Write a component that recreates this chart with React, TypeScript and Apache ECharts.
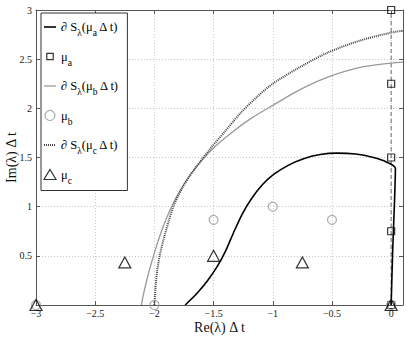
import React, { useEffect, useRef } from 'react';
import * as echarts from 'echarts';

const FONT = "'Liberation Serif', 'Times New Roman', serif";

// Boundary curves ∂S_λ(μ Δt)
const boundaryA: number[][] = [
  [-1.74, 0], [-1.64, 0.12], [-1.55, 0.25], [-1.47, 0.39], [-1.4, 0.545], [-1.33, 0.74],
  [-1.26, 0.92], [-1.18, 1.08], [-1.09, 1.22], [-0.99, 1.33], [-0.87, 1.42], [-0.746, 1.485],
  [-0.6, 1.53], [-0.46, 1.545], [-0.3, 1.535], [-0.15, 1.5], [-0.04, 1.455], [0.036, 1.39],
  [0.027, 1.01], [0.013, 0.56], [0, 0],
];
const boundaryB: number[][] = [
  [-2.11, 0], [-2.09, 0.12], [-2.05, 0.32], [-2.0, 0.53], [-1.94, 0.75], [-1.87, 0.96],
  [-1.79, 1.15], [-1.7, 1.32], [-1.6, 1.47], [-1.48, 1.62], [-1.34, 1.76], [-1.18, 1.9],
  [-1.0, 2.03], [-0.77, 2.19], [-0.53, 2.32], [-0.27, 2.415], [0, 2.46], [0.1, 2.47],
];
const boundaryC: number[][] = [
  [-2.0, 0], [-1.99, 0.18], [-1.975, 0.36], [-1.95, 0.53], [-1.915, 0.7], [-1.88, 0.85],
  [-1.84, 1.0], [-1.76, 1.2], [-1.65, 1.4], [-1.52, 1.6], [-1.4, 1.77], [-1.274, 1.95],
  [-1.13, 2.12], [-1.0, 2.25], [-0.77, 2.42], [-0.53, 2.57], [-0.26, 2.69], [0, 2.77], [0.1, 2.79],
];
// Eigenvalue markers
const muA: number[][] = [[0, 0], [0, 0.75], [0, 1.5], [0, 2.25], [0, 3]];
const muB: number[][] = [[-3, 0], [-2, 0], [-1.5, 0.866], [-1, 1], [-0.5, 0.866], [0, 0]];
const muC: number[][] = [[-3, 0], [-2.25, 0.433], [-1.5, 0.5], [-0.75, 0.433], [0, 0]];
const imagAxisLine: number[][] = [[0, 0], [0, 3]];

const xTickValues = [-3, -2.5, -2, -1.5, -1, -0.5, 0];
const yTickValues = [0.5, 1, 1.5, 2, 2.5, 3];

const names = ['Sa', 'muA', 'Sb', 'muB', 'Sc', 'muC'];
const legendLabels: Record<string, string> = {
  Sa: '{b|∂ S}{s|λ}{b|(μ}{s|a}{b| Δ t)}',
  muA: '{b|μ}{s|a}',
  Sb: '{b|∂ S}{s|λ}{b|(μ}{s|b}{b| Δ t)}',
  muB: '{b|μ}{s|b}',
  Sc: '{b|∂ S}{s|λ}{b|(μ}{s|c}{b| Δ t)}',
  muC: '{b|μ}{s|c}',
};

const fmt = (ticks: number[]) => (v: number) =>
  ticks.some((t) => Math.abs(t - v) < 1e-9) ? String(v).replace('-', '\u2212') : '';

export default function App() {
  const ref = useRef<HTMLDivElement>(null);
  useEffect(() => {
    if (!ref.current) return;
    const chart = echarts.init(ref.current, undefined, { renderer: 'svg' });
    const frame = '#555';
    const baseX = { type: 'value' as const, min: -3, max: 0.1, interval: 0.5 };
    const baseY = { type: 'value' as const, min: 0, max: 3, interval: 0.5 };
    chart.setOption({
      animation: false,
      backgroundColor: '#fff',
      grid: { left: 36, top: 10, right: 4, bottom: 34, containLabel: false, outerBoundsMode: 'none' },
      xAxis: [
        {
          ...baseX,
          position: 'bottom',
          axisLine: { show: true, onZero: false, lineStyle: { color: frame, width: 1 } },
          axisTick: { inside: true, length: 4, lineStyle: { color: frame } },
          axisLabel: { fontFamily: FONT, fontSize: 10, lineHeight: 11, color: '#222', margin: 3, formatter: fmt(xTickValues) },
          splitLine: { show: true, lineStyle: { color: '#c8c8c8', type: [1, 2], width: 1 } },
          name: 'Re(λ) Δ t',
          nameLocation: 'middle',
          nameGap: 15,
          nameMoveOverlap: false,
          nameTextStyle: { fontFamily: FONT, fontSize: 14, lineHeight: 14, color: '#111' },
        },
        {
          ...baseX,
          position: 'top',
          axisLine: { show: true, onZero: false, lineStyle: { color: frame, width: 1 } },
          axisTick: { inside: true, length: 4, lineStyle: { color: frame } },
          axisLabel: { show: false },
          splitLine: { show: false },
        },
      ],
      yAxis: [
        {
          ...baseY,
          position: 'left',
          axisLine: { show: true, onZero: false, lineStyle: { color: frame, width: 1 } },
          axisTick: { inside: true, length: 4, lineStyle: { color: frame } },
          axisLabel: { fontFamily: FONT, fontSize: 10, color: '#222', margin: 4, formatter: fmt(yTickValues) },
          splitLine: { show: true, lineStyle: { color: '#c8c8c8', type: [1, 2], width: 1 } },
          name: 'Im(λ) Δ t',
          nameLocation: 'middle',
          nameGap: 18,
          nameMoveOverlap: false,
          nameRotate: 90,
          nameTextStyle: { fontFamily: FONT, fontSize: 14, color: '#111' },
        },
        {
          ...baseY,
          position: 'right',
          axisLine: { show: true, onZero: false, lineStyle: { color: frame, width: 1 } },
          axisTick: { inside: true, length: 4, lineStyle: { color: frame } },
          axisLabel: { show: false },
          splitLine: { show: false },
        },
      ],
      legend: {
        orient: 'vertical',
        left: 41,
        top: 13,
        padding: [3, 8, 5, 2],
        itemGap: 7.5,
        itemWidth: 12,
        itemHeight: 10,
        selectedMode: false,
        backgroundColor: '#fff',
        borderColor: '#333',
        borderWidth: 1,
        lineStyle: { width: 'inherit' },
        data: [
          { name: 'Sa', itemStyle: { opacity: 0 } },
          { name: 'muA', icon: 'path://M0,0M10,10M1.8,1.8L8.2,1.8L8.2,8.2L1.8,8.2Z', itemStyle: { borderWidth: 1.2 } },
          { name: 'Sb', itemStyle: { opacity: 0 } },
          { name: 'muB', icon: 'circle', itemStyle: { borderWidth: 1.2 } },
          { name: 'Sc', itemStyle: { opacity: 0 } },
          { name: 'muC', icon: 'triangle', itemStyle: { borderWidth: 1.2 } },
        ],
        formatter: (n: string) => legendLabels[n] || n,
        textStyle: {
          fontFamily: FONT,
          rich: {
            b: { fontFamily: FONT, fontSize: 12.5, color: '#000', lineHeight: 18 },
            s: { fontFamily: FONT, fontSize: 9.5, color: '#000', lineHeight: 10, padding: [12, 0, 0, 0] },
          },
        },
      },
      series: [
        {
          type: 'line',
          data: imagAxisLine,
          symbol: 'none',
          silent: true,
          lineStyle: { color: '#888', width: 1.3, type: [4, 3] },
          z: 1,
        },
        {
          name: names[0],
          type: 'line',
          data: boundaryA,
          symbol: 'none',
          smooth: 0.25,
          clip: true,
          lineStyle: { color: '#000', width: 1.6 },
          itemStyle: { color: '#000' },
          z: 2,
        },
        {
          name: names[1],
          type: 'scatter',
          data: muA,
          symbol: 'rect',
          symbolSize: 7,
          itemStyle: { color: 'transparent', borderColor: '#000', borderWidth: 1.2 },
          z: 3,
        },
        {
          name: names[2],
          type: 'line',
          data: boundaryB,
          symbol: 'none',
          smooth: 0.3,
          clip: true,
          lineStyle: { color: '#999', width: 1.3 },
          itemStyle: { color: '#999' },
          z: 2,
        },
        {
          name: names[3],
          type: 'scatter',
          data: muB,
          symbol: 'circle',
          symbolSize: 9,
          itemStyle: { color: 'transparent', borderColor: '#999', borderWidth: 1.2 },
          z: 3,
        },
        {
          name: names[4],
          type: 'line',
          data: boundaryC,
          symbol: 'none',
          smooth: 0.3,
          clip: true,
          lineStyle: { color: '#444', width: 2, type: [1, 1] },
          itemStyle: { color: '#444' },
          z: 2,
        },
        {
          name: names[5],
          type: 'scatter',
          data: muC,
          symbol: 'triangle',
          symbolSize: [12, 11],
          itemStyle: { color: 'transparent', borderColor: '#000', borderWidth: 1.2 },
          z: 3,
        },
      ],
    });
    return () => chart.dispose();
  }, []);
  return (
    <div
      ref={ref}
      style={{ position: 'fixed', left: 0, top: 0, width: 407, height: 339 }}
    />
  );
}
